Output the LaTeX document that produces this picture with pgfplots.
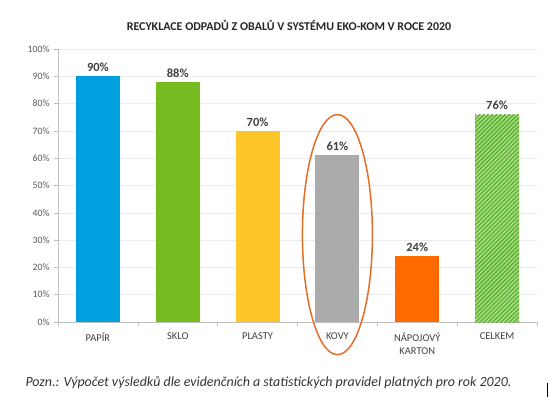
\documentclass[border=0pt]{standalone}
\usepackage{pgfplots}
\pgfplotsset{compat=1.18}
\usepackage{fontspec}
\setmainfont{Carlito}
\usetikzlibrary{patterns.meta}
\definecolor{cblue}{RGB}{0,160,223}
\definecolor{cgreen}{RGB}{118,188,33}
\definecolor{cyellow}{RGB}{255,198,42}
\definecolor{cgray}{RGB}{171,171,171}
\definecolor{corange}{RGB}{255,106,0}
\definecolor{hatchdark}{RGB}{88,176,48}
\definecolor{hatchlight}{RGB}{170,222,130}
\definecolor{ellip}{RGB}{226,110,40}
\definecolor{txt}{RGB}{64,64,64}
\definecolor{tick}{RGB}{89,89,89}
\begin{document}
\begin{tikzpicture}[x=1bp,y=1bp]
\path[use as bounding box] (0,0) rectangle (549,399);
\begin{axis}[
  at={(58bp,77bp)}, anchor=south west,
  scale only axis, width=479bp, height=273bp,
  ymin=0, ymax=100, xmin=-0.5, xmax=5.5,
  ytick={0,10,...,100},
  yticklabel={\pgfmathprintnumber{\tick}\%},
  /pgf/number format/assume math mode=true,
  yticklabel style={font=\fontsize{9.8}{11}\selectfont, text=tick, xshift=-1bp},
  ymajorgrids, grid style={draw=black!8, line width=0.5pt},
  axis x line*=bottom, axis y line*=left,
  axis line style={draw=black!25, line width=0.6pt},
  xtick={0,...,5}, major x tick style={draw=none},
  xticklabels={PAPÍR,SKLO,PLASTY,KOVY,{NÁPOJOVÝ\\KARTON},CELKEM},
  xticklabel style={font=\fontsize{10.5}{13}\selectfont, text=txt, align=center, yshift=-3bp},
  minor xtick={-0.5,0.5,...,5.5},
  minor x tick style={draw=black!25, line width=0.6pt},
  minor tick length=4bp,
  major y tick style={draw=black!25, line width=0.6pt},
  major tick length=4bp,
  tick align=outside,
  ybar, bar width=44bp, bar shift=0pt,
  nodes near coords={\pgfmathprintnumber{\pgfplotspointmeta}\%},
  nodes near coords style={font=\bfseries\fontsize{12.5}{14}\selectfont, text=txt, yshift=1bp},
  clip=false,
]
\addplot[fill=cblue, draw=none] coordinates {(0,90)};
\addplot[fill=cgreen, draw=none] coordinates {(1,88)};
\addplot[fill=cyellow, draw=none] coordinates {(2,70)};
\addplot[fill=cgray, draw=none] coordinates {(3,61)};
\addplot[fill=corange, draw=none] coordinates {(4,24)};
\addplot[fill=hatchlight, draw=none, postaction={pattern={Lines[angle=45,distance=3bp,line width=1.3bp]}, pattern color=hatchdark}] coordinates {(5,76)};
\draw[ellip, line width=1.5pt] (axis cs:3,32) ellipse [x radius=35bp, y radius=120bp];
\end{axis}
\node[anchor=north, font=\bfseries\fontsize{12}{14}\selectfont, text=black!85] at (289,382) {RECYKLACE ODPADŮ Z OBALŮ V SYSTÉMU EKO-KOM V ROCE 2020};
\node[anchor=west, font=\itshape\fontsize{14}{16}\selectfont, text=black!80] at (22,16) {Pozn.: Výpočet výsledků dle evidenčních a statistických pravidel platných pro rok 2020.};
\draw[black, line width=1.2pt] (547.5,2) -- (547.5,16);
\end{tikzpicture}
\end{document}
